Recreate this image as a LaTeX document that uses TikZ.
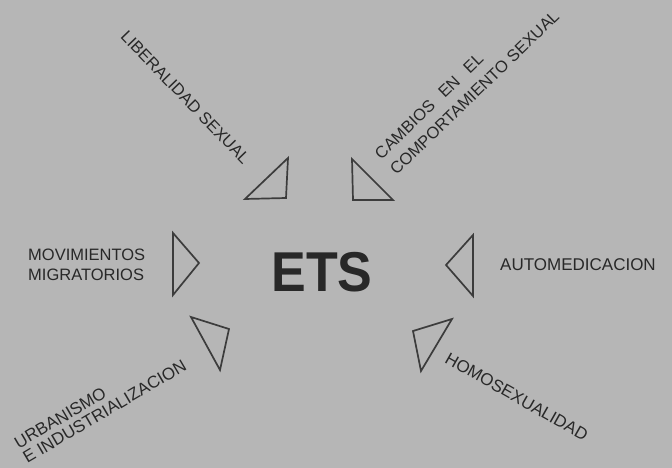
\documentclass[tikz,border=0pt]{standalone}
\usepackage{fontspec}
\setmainfont{Liberation Sans}
\definecolor{bgcol}{RGB}{182,182,182}
\definecolor{inkcol}{RGB}{40,40,40}
\definecolor{tricol}{RGB}{60,60,60}
\begin{document}
\begin{tikzpicture}[x=1pt,y=1pt,
  lab/.style={inner sep=0pt, text=inkcol, font=\fontsize{16.5}{20.5}\selectfont},
  tri/.style={draw=tricol, line width=1.7pt}]
\useasboundingbox (0,0) rectangle (672,-468);
\fill[bgcol] (0,0) rectangle (672,-468);
% centre
\node[inner sep=0pt, text=inkcol, font=\bfseries\fontsize{52}{52}\selectfont] (ets) at (322,-272) {\scalebox{1}[1.08]{ETS}};
% labels
\node[lab, rotate=-46] (lib) at (185.5,-97.5) {LIBERALIDAD SEXUAL};
\node[lab, rotate=44, anchor=west, align=left, font=\fontsize{16.5}{22}\selectfont] (cam) at (385,-164) {CAMBIOS\hspace{12pt}EN\hspace{12pt}EL\\COMPORTAMIENTO SEXUAL};
\node[lab, anchor=west, align=left] (mov) at (28,-265) {MOVIMIENTOS\\MIGRATORIOS};
\node[lab, font=\fontsize{17}{20}\selectfont] (auto) at (578,-265) {AUTOMEDICACION};
\node[lab, rotate=30.5, anchor=west, align=left, font=\fontsize{17}{17}\selectfont] (urb) at (20,-451.5) {URBANISMO\\E INDUSTRIALIZACION};
\node[lab, rotate=-29.5, font=\fontsize{17}{20}\selectfont] (homo) at (516.7,-396.7) {HOMOSEXUALIDAD};
% triangles
\draw[tri] (288,-158) -- (245,-199) -- (286,-198) -- cycle;
\draw[tri] (352,-159) -- (353,-200) -- (393,-200) -- cycle;
\draw[tri] (173,-233) -- (199,-263) -- (173,-295) -- cycle;
\draw[tri] (473,-235) -- (446,-265) -- (473,-296) -- cycle;
\draw[tri] (191,-317) -- (229,-329) -- (220,-370) -- cycle;
\draw[tri] (413,-331) -- (452,-319) -- (421,-371) -- cycle;
\end{tikzpicture}
\end{document}
